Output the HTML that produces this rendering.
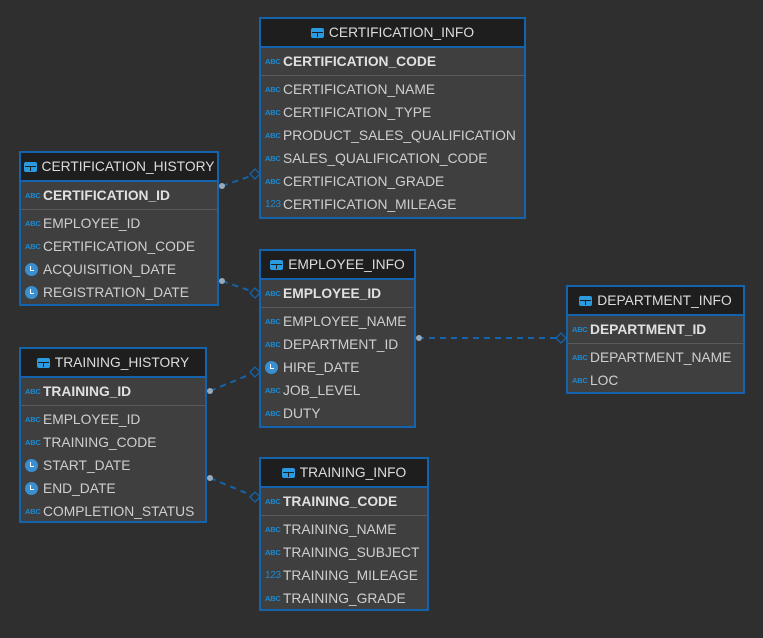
<!DOCTYPE html>
<html><head><meta charset="utf-8"><style>
body{margin:0;width:763px;height:638px;background:#2f2f2f;position:relative;overflow:hidden;font-family:"Liberation Sans",sans-serif;}
.t{position:absolute;box-sizing:border-box;border:2px solid #1364ad;background:#3f3f3f;}
.h{height:27px;background:#1e1e1e;border-bottom:2px solid #1364ad;color:#dcdcdc;font-size:13.8px;display:flex;align-items:center;justify-content:center;white-space:nowrap}
.ti{flex-shrink:0;display:inline-block;width:13px;height:10px;background:#2a9be0;border-radius:2px;margin-right:5px;position:relative}
.ti:before{content:"";position:absolute;left:1px;right:1px;top:4px;height:1px;background:#1e1e1e}
.ti:after{content:"";position:absolute;left:6px;width:1px;top:4px;bottom:1px;background:#1e1e1e}
.k{height:27px;border-bottom:1px solid #5a5a5a;display:flex;align-items:center;padding-left:4px;color:#e0e0e0;font-weight:bold;font-size:13.8px;white-space:nowrap}
.rs{padding-top:2px}
.r{height:23px;display:flex;align-items:center;padding-left:4px;color:#cfcfcf;font-size:13.8px;white-space:nowrap}
.a{flex-shrink:0;font-size:7.5px;font-weight:bold;color:#1a8ad4;width:18px;display:inline-block;letter-spacing:-0.2px}
.n{flex-shrink:0;font-size:10px;color:#1a8ad4;width:18px;display:inline-block;letter-spacing:-0.3px}
.c{flex-shrink:0;width:13px;height:13px;border-radius:50%;background:#3a8fd0;display:inline-block;margin-right:5px;position:relative}
.c:after{content:"";position:absolute;left:6px;top:3px;width:3px;height:4px;border-left:1px solid #fff;border-bottom:1px solid #fff;transform:translateX(-1px)}
</style></head><body>
<svg width="763" height="638" style="position:absolute;left:0;top:0">
<g stroke="#1364ad" stroke-width="2" stroke-dasharray="6,5" fill="none">
<line x1="222" y1="186" x2="251" y2="176"/>
<line x1="222" y1="281" x2="251" y2="291"/>
<line x1="418" y1="338" x2="557" y2="338"/>
<line x1="210" y1="391" x2="251" y2="374"/>
<line x1="210" y1="478" x2="251" y2="495"/>
</g>
<g fill="#9aa8b8"><circle cx="222" cy="186" r="3"/><circle cx="222" cy="281" r="3"/><circle cx="419" cy="338" r="3"/><circle cx="210" cy="391" r="3"/><circle cx="210" cy="478" r="3"/></g>
<g fill="#2f2f2f" stroke="#1364ad" stroke-width="1.3">
<path d="M250 174 l5 -5 l5 5 l-5 5z"/><path d="M250 293 l5 -5 l5 5 l-5 5z"/><path d="M556 338 l5 -5 l5 5 l-5 5z"/><path d="M250 372 l5 -5 l5 5 l-5 5z"/><path d="M250 497 l5 -5 l5 5 l-5 5z"/>
</g></svg>

<div class="t" style="left:259px;top:17px;width:267px;height:202px">
<div class="h"><span class="ti"></span>CERTIFICATION_INFO</div>
<div class="k"><span class="a">ABC</span>CERTIFICATION_CODE</div>
<div class="rs">
<div class="r"><span class="a">ABC</span>CERTIFICATION_NAME</div>
<div class="r"><span class="a">ABC</span>CERTIFICATION_TYPE</div>
<div class="r"><span class="a">ABC</span>PRODUCT_SALES_QUALIFICATION</div>
<div class="r"><span class="a">ABC</span>SALES_QUALIFICATION_CODE</div>
<div class="r"><span class="a">ABC</span>CERTIFICATION_GRADE</div>
<div class="r"><span class="n">123</span>CERTIFICATION_MILEAGE</div>
</div></div>

<div class="t" style="left:19px;top:151px;width:200px;height:155px">
<div class="h"><span class="ti"></span>CERTIFICATION_HISTORY</div>
<div class="k"><span class="a">ABC</span>CERTIFICATION_ID</div>
<div class="rs">
<div class="r"><span class="a">ABC</span>EMPLOYEE_ID</div>
<div class="r"><span class="a">ABC</span>CERTIFICATION_CODE</div>
<div class="r"><span class="c"></span>ACQUISITION_DATE</div>
<div class="r"><span class="c"></span>REGISTRATION_DATE</div>
</div></div>

<div class="t" style="left:259px;top:249px;width:157px;height:179px">
<div class="h"><span class="ti"></span>EMPLOYEE_INFO</div>
<div class="k"><span class="a">ABC</span>EMPLOYEE_ID</div>
<div class="rs">
<div class="r"><span class="a">ABC</span>EMPLOYEE_NAME</div>
<div class="r"><span class="a">ABC</span>DEPARTMENT_ID</div>
<div class="r"><span class="c"></span>HIRE_DATE</div>
<div class="r"><span class="a">ABC</span>JOB_LEVEL</div>
<div class="r"><span class="a">ABC</span>DUTY</div>
</div></div>

<div class="t" style="left:566px;top:285px;width:179px;height:109px">
<div class="h"><span class="ti"></span>DEPARTMENT_INFO</div>
<div class="k"><span class="a">ABC</span>DEPARTMENT_ID</div>
<div class="rs">
<div class="r"><span class="a">ABC</span>DEPARTMENT_NAME</div>
<div class="r"><span class="a">ABC</span>LOC</div>
</div></div>

<div class="t" style="left:19px;top:347px;width:188px;height:176px">
<div class="h"><span class="ti"></span>TRAINING_HISTORY</div>
<div class="k"><span class="a">ABC</span>TRAINING_ID</div>
<div class="rs">
<div class="r"><span class="a">ABC</span>EMPLOYEE_ID</div>
<div class="r"><span class="a">ABC</span>TRAINING_CODE</div>
<div class="r"><span class="c"></span>START_DATE</div>
<div class="r"><span class="c"></span>END_DATE</div>
<div class="r"><span class="a">ABC</span>COMPLETION_STATUS</div>
</div></div>

<div class="t" style="left:259px;top:457px;width:170px;height:154px">
<div class="h"><span class="ti"></span>TRAINING_INFO</div>
<div class="k"><span class="a">ABC</span>TRAINING_CODE</div>
<div class="rs">
<div class="r"><span class="a">ABC</span>TRAINING_NAME</div>
<div class="r"><span class="a">ABC</span>TRAINING_SUBJECT</div>
<div class="r"><span class="n">123</span>TRAINING_MILEAGE</div>
<div class="r"><span class="a">ABC</span>TRAINING_GRADE</div>
</div></div>
</body></html>
